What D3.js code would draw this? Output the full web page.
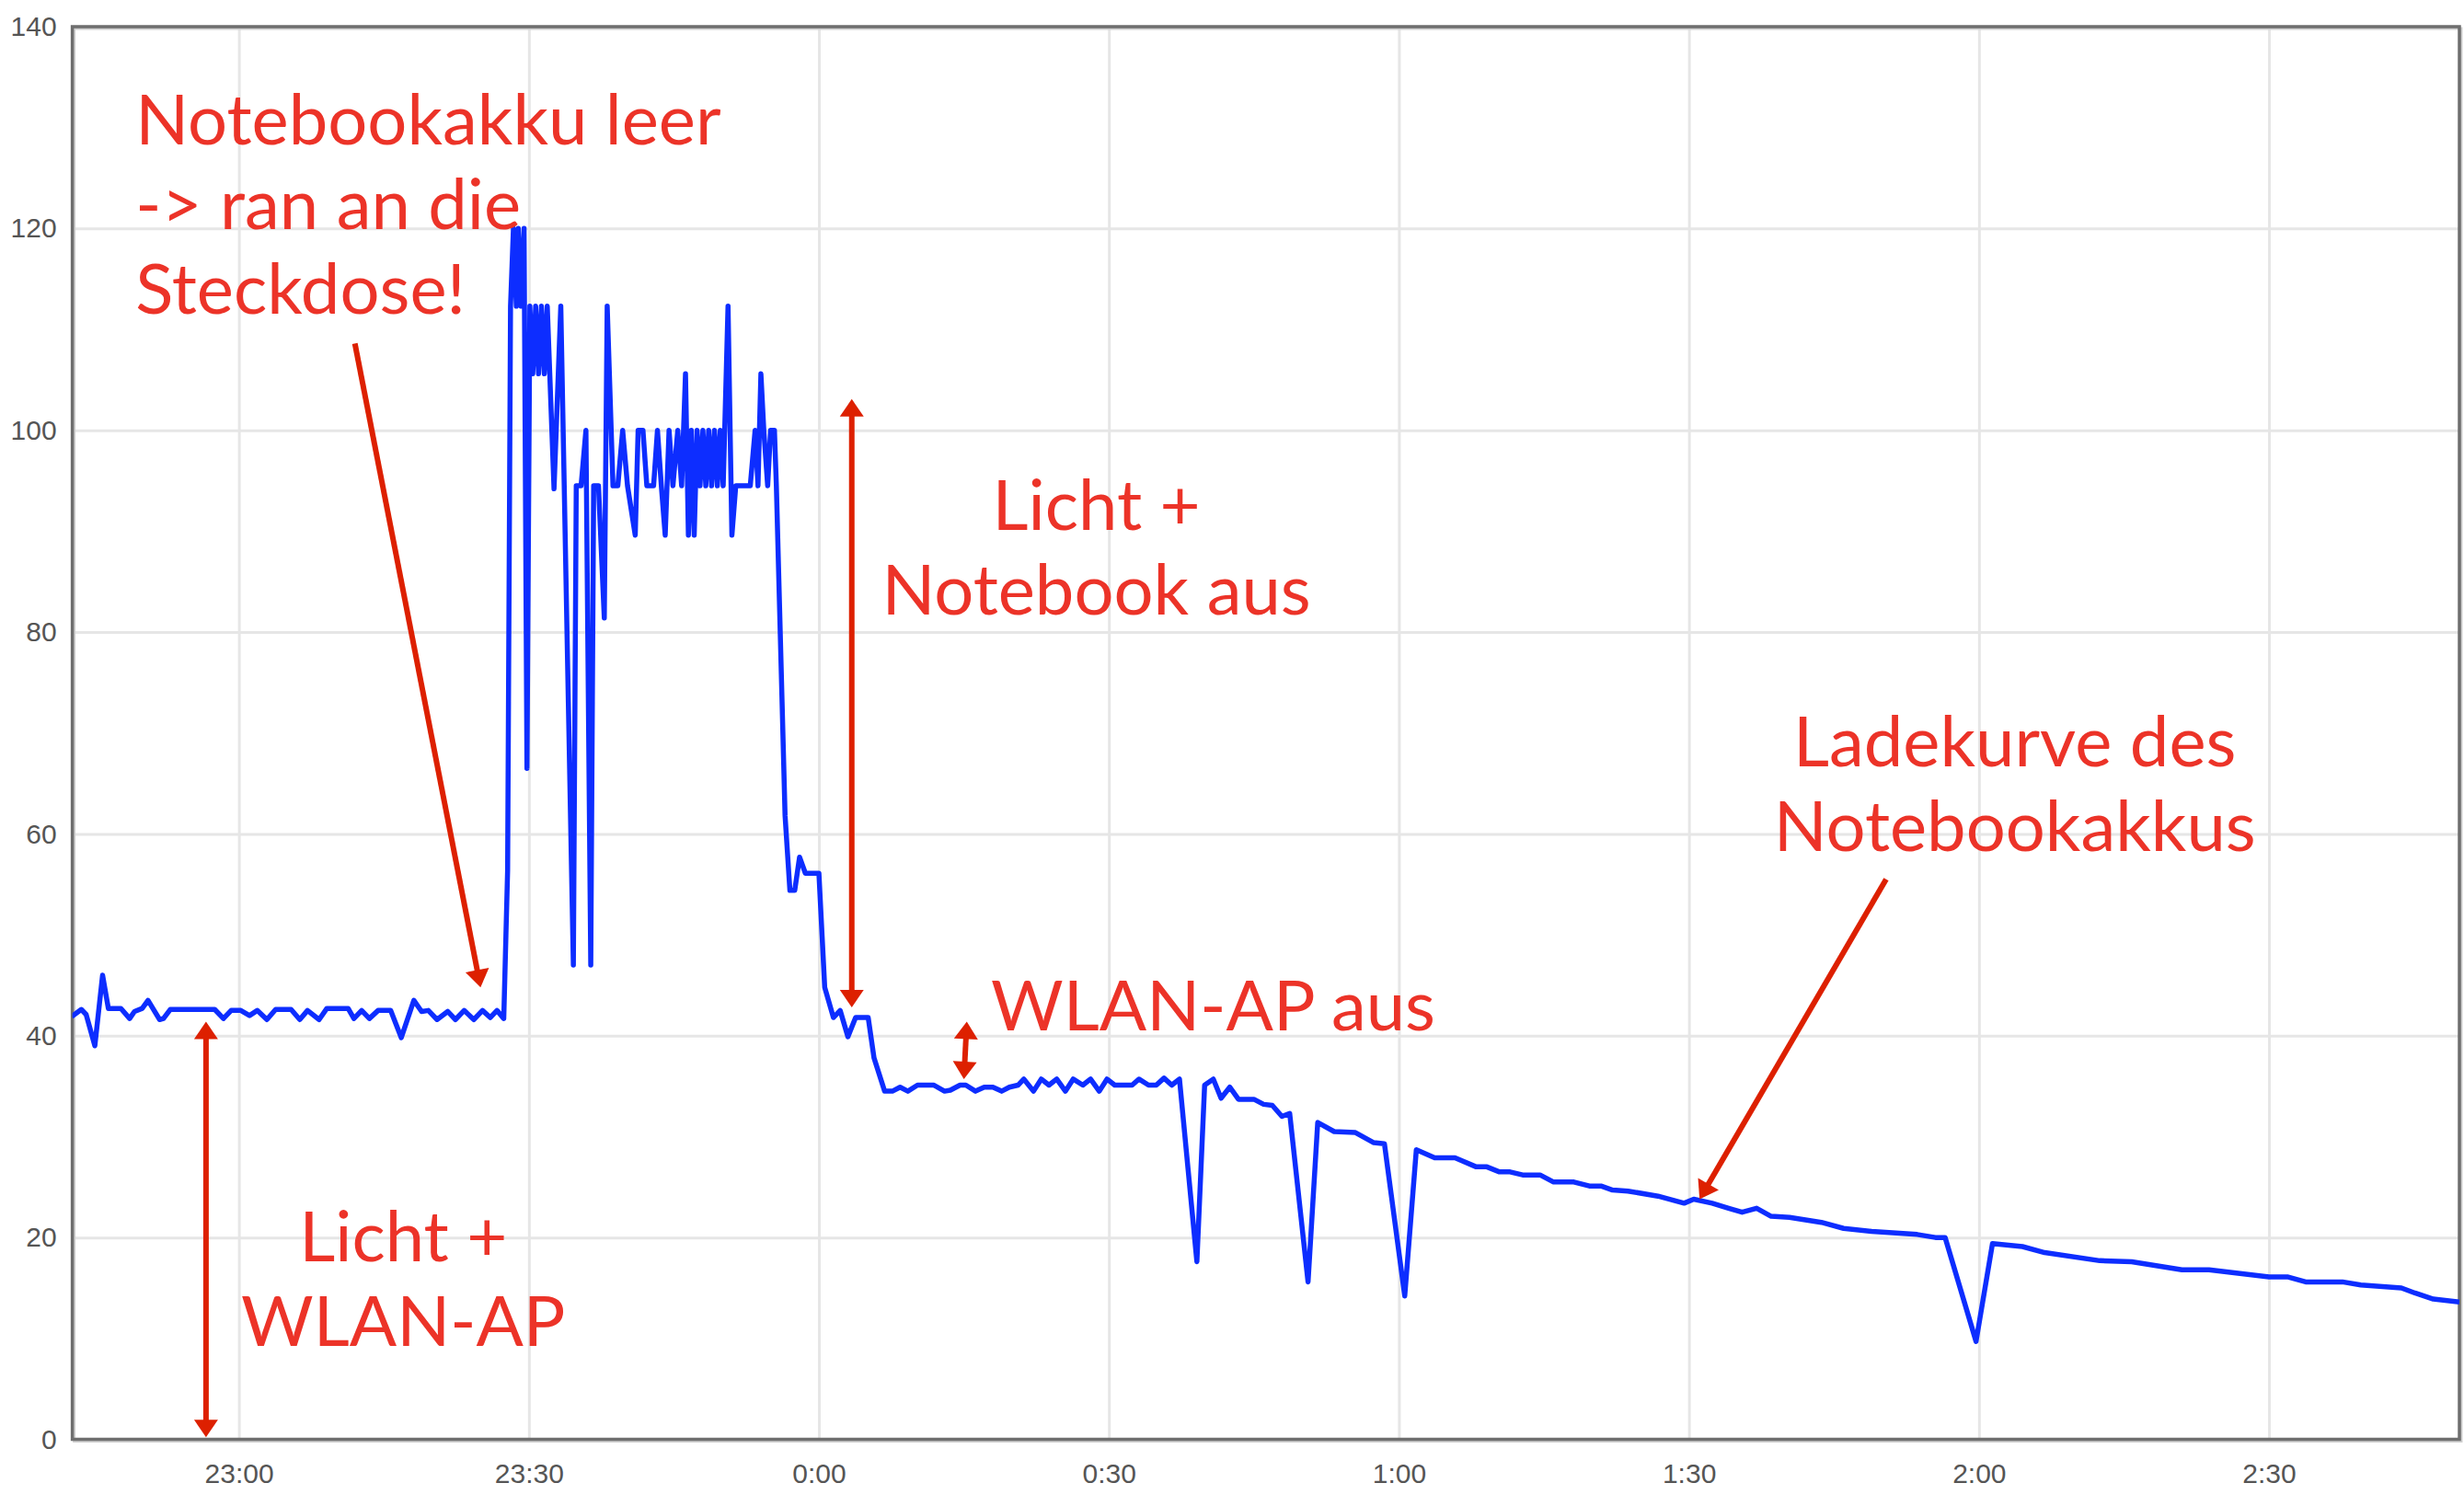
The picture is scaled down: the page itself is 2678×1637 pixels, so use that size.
<!DOCTYPE html>
<html>
<head>
<meta charset="utf-8">
<script src="https://cdn.jsdelivr.net/npm/d3@7"></script>
<style>
    body { margin: 0; background: #fff; }
    .axis text { font-family: "Liberation Sans", Arial, sans-serif; font-size: 30px; fill: #555; }
    .note { font-family: Lato, "Open Sans", sans-serif; font-size: 76px; fill: #ec3328; }
</style>
</head>
<body>
<div id="chart"></div>
<script>
// Minutes after 23:00 for each reading
const minutes = [
    -17.3, -16.3, -15.8, -14.9, -14.1, -13.5, -12.2, -11.3, -10.8, -10.0,
    -9.4, -8.2, -7.8, -7.1, -2.5, -1.6, -0.8, 0.2, 1.1, 1.9,
    2.9, 3.8, 5.4, 6.3, 7.1, 8.3, 9.1, 11.3, 11.9, 12.7,
    13.5, 14.4, 15.7, 16.8, 18.1, 18.9, 19.6, 20.5, 21.6, 22.4,
    23.3, 24.3, 25.2, 26.0, 26.7, 27.4,
    27.8, 28.1, 28.4, 28.7, 28.9, 29.2, 29.5, 29.8, 30.1, 30.4,
    30.7, 31.0, 31.3, 31.6, 31.9, 32.6, 33.3, 34.6, 34.9, 35.4,
    35.9, 36.4, 36.7, 37.2, 37.8, 38.1, 38.7, 39.2, 39.7, 40.2,
    41.0, 41.3, 41.8, 42.2, 42.9, 43.3, 43.7, 44.1, 44.5, 44.9,
    45.4, 45.8, 46.2, 46.5, 46.8, 47.1, 47.4, 47.7, 48.0, 48.3,
    48.6, 48.9, 49.2, 49.5, 49.8, 50.1, 50.6, 51.0, 51.4, 52.9,
    53.4, 53.7, 54.0, 54.3, 54.7, 55.0, 55.4, 55.6,
    56.5, 57.0, 57.5, 58.0, 58.6, 60.0, 60.6, 61.5, 62.2, 63.0,
    63.8, 65.1, 65.7, 66.8, 67.6, 68.4, 69.2, 70.2, 71.9, 73.0,
    73.6, 74.6, 75.2, 76.2, 77.1, 78.0, 78.9, 79.7, 80.6, 81.2,
    82.2, 83.0, 83.8, 84.6, 85.5, 86.3, 87.3, 88.1, 89.0, 89.8,
    90.6, 92.4, 93.1, 94.1, 94.9, 95.7, 96.5, 97.3, 99.1, 99.9,
    100.8, 101.6, 102.5, 103.4, 105.0, 106.0, 106.9, 107.9, 108.7, 110.6,
    111.6, 113.3, 115.5, 117.4, 118.5, 120.6, 121.8, 123.7, 125.8, 128.0,
    129.1, 130.4, 131.5, 132.8, 134.6, 136.0, 138.1, 139.7, 140.9, 142.1,
    143.7, 146.8, 149.5, 150.5, 152.4, 154.1, 155.5, 157.0, 158.5, 160.4,
    163.7, 166.0, 168.9, 173.6, 175.5, 176.5, 179.7, 181.4, 184.5, 186.8,
    192.5, 195.8, 201.0, 203.8, 210.0, 211.9, 213.8, 217.6, 219.5, 223.7,
    225.1, 227.0, 229.7
];

// Power draw in watts
const watts = [
    41.9, 42.6, 42.1, 39.0, 46.0, 42.7, 42.7, 41.7, 42.4, 42.7,
    43.5, 41.6, 41.7, 42.6, 42.6, 41.7, 42.5, 42.5, 42.0, 42.5,
    41.6, 42.6, 42.6, 41.6, 42.5, 41.6, 42.7, 42.7, 41.7, 42.5,
    41.7, 42.5, 42.5, 39.8, 43.5, 42.4, 42.5, 41.6, 42.4, 41.6,
    42.5, 41.6, 42.5, 41.8, 42.5, 41.7,
    56.4, 112.3, 120, 112.3, 120, 112.3, 120, 66.5, 112.3, 105.6,
    112.3, 105.6, 112.3, 105.6, 112.3, 94.2, 112.3, 47, 94.5, 94.5,
    100, 47, 94.5, 94.5, 81.4, 112.3, 94.5, 94.5, 100, 94.5,
    89.6, 100, 100, 94.5, 94.5, 100, 94.5, 89.6, 100, 94.5,
    100, 94.5, 105.6, 89.6, 100, 89.6, 100, 94.5, 100, 94.5,
    100, 94.5, 100, 94.5, 100, 94.5, 112.3, 89.6, 94.5, 94.5,
    100, 94.5, 105.6, 100, 94.5, 100, 100, 94.5,
    61.8, 54.4, 54.4, 57.7, 56.1, 56.1, 44.8, 41.8, 42.5, 39.9,
    41.8, 41.8, 37.8, 34.5, 34.5, 34.9, 34.5, 35.1, 35.1, 34.5,
    34.6, 35.1, 35.1, 34.5, 34.9, 34.9, 34.5, 34.9, 35.1, 35.7,
    34.5, 35.7, 35.1, 35.7, 34.5, 35.7, 35.1, 35.7, 34.5, 35.7,
    35.1, 35.1, 35.7, 35.1, 35.1, 35.8, 35.1, 35.7, 17.6, 35.1,
    35.7, 33.8, 34.9, 33.7, 33.7, 33.2, 33.1, 32.0, 32.3, 15.6,
    31.4, 30.5, 30.4, 29.4, 29.3, 14.2, 28.7, 27.9, 27.9, 27.0,
    27.0, 26.5, 26.5, 26.2, 26.2, 25.5, 25.5, 25.1, 25.1, 24.7,
    24.6, 24.1, 23.4, 23.8, 23.4, 22.9, 22.5, 22.9, 22.1, 22.0,
    21.5, 20.9, 20.6, 20.3, 20.0, 20.0, 9.7, 19.4, 19.1, 18.5,
    17.7, 17.6, 16.8, 16.8, 16.1, 16.1, 15.6, 15.6, 15.3, 15.0,
    14.5, 13.9, 13.6
];

const yTicks = [0, 20, 40, 60, 80, 100, 120, 140];
const xTickMinutes = [0, 30, 60, 90, 120, 150, 180, 210];
const xDomainMinutes = [-17.23, 229.7];

// Annotation texts, placed at (minute, watt) of their first baseline
const noteLines = [
    ["Notebookakku leer", "-> ran an die", "Steckdose!"],
    ["Licht +", "WLAN-AP"],
    ["Licht +", "Notebook aus"],
    ["WLAN-AP aus"],
    ["Ladekurve des", "Notebookakkus"]
];
const noteMinute = [-10.7, 17.0, 88.7, 77.8, 183.7];
const noteWatt = [128.3, 17.6, 90.1, 40.5, 66.7];

// Arrows: from / to in (minute, watt)
const arrowFrom = [[12.0, 108.6], [-3.4, 41.4], [63.4, 103.1], [75.3, 41.4], [170.4, 55.5]];
const arrowTo = [[25.0, 44.8], [-3.4, 0.2], [63.4, 42.8], [75.0, 35.7], [151.1, 23.8]];
const arrowBoth = [false, true, true, true, false];

const width = 2678;
const height = 1637;
const plot = { left: 78.6, right: 2673, top: 29, bottom: 1564.5 };

const base = new Date(2012, 0, 1, 23, 0, 0);
const toDate = m => new Date(base.getTime() + m * 60000);

const svg = d3.select('#chart')
    .append('svg')
    .attr('width', width)
    .attr('height', height);

const x = d3.scaleTime()
    .domain(xDomainMinutes.map(toDate))
    .range([plot.left, plot.right]);

const y = d3.scaleLinear()
    .domain([0, 140])
    .range([plot.bottom, plot.top]);

// Grid lines
svg.append('g')
    .attr('transform', `translate(0,${plot.bottom})`)
    .call(d3.axisBottom(x)
        .tickValues(xTickMinutes.map(toDate))
        .tickSize(-(plot.bottom - plot.top))
        .tickFormat(''))
    .call(g => g.select('.domain').remove())
    .call(g => g.selectAll('line').attr('stroke', '#e6e6e6').attr('stroke-width', 3));

svg.append('g')
    .attr('transform', `translate(${plot.left},0)`)
    .call(d3.axisLeft(y)
        .tickValues(yTicks.slice(1, -1))
        .tickSize(-(plot.right - plot.left))
        .tickFormat(''))
    .call(g => g.select('.domain').remove())
    .call(g => g.selectAll('line').attr('stroke', '#e6e6e6').attr('stroke-width', 3));

// Tick labels
svg.append('g')
    .attr('class', 'axis')
    .attr('transform', `translate(0,${plot.bottom})`)
    .call(d3.axisBottom(x)
        .tickValues(xTickMinutes.map(toDate))
        .tickFormat(d3.timeFormat('%-H:%M'))
        .tickSize(0)
        .tickPadding(26))
    .call(g => g.select('.domain').remove());

svg.append('g')
    .attr('class', 'axis')
    .attr('transform', `translate(${plot.left},0)`)
    .call(d3.axisLeft(y)
        .tickValues(yTicks)
        .tickSize(0)
        .tickPadding(17))
    .call(g => g.select('.domain').remove());

// Frame around the plot
svg.append('rect')
    .attr('x', plot.left + 2)
    .attr('y', plot.top + 2)
    .attr('width', plot.right - plot.left)
    .attr('height', plot.bottom - plot.top)
    .attr('fill', 'none')
    .attr('stroke', '#cfcfcf')
    .attr('stroke-width', 3);

svg.append('rect')
    .attr('x', plot.left)
    .attr('y', plot.top)
    .attr('width', plot.right - plot.left)
    .attr('height', plot.bottom - plot.top)
    .attr('fill', 'none')
    .attr('stroke', '#6e6e6e')
    .attr('stroke-width', 3.5);

// Power line
svg.append('clipPath')
    .attr('id', 'clip')
    .append('rect')
    .attr('x', plot.left)
    .attr('y', plot.top)
    .attr('width', plot.right - plot.left)
    .attr('height', plot.bottom - plot.top);

const line = d3.line()
    .x((d, i) => x(toDate(minutes[i])))
    .y(d => y(d));

svg.append('path')
    .datum(watts)
    .attr('clip-path', 'url(#clip)')
    .attr('fill', 'none')
    .attr('stroke', '#0d2dff')
    .attr('stroke-width', 5.5)
    .attr('stroke-linejoin', 'round')
    .attr('d', line);

// Red arrows
const arrows = svg.append('g').attr('fill', '#dd2000').attr('stroke', '#dd2000');
const headLen = 19, headHalf = 13;

function drawArrow(p0, p1, both) {
    const ang = Math.atan2(p1[1] - p0[1], p1[0] - p0[0]);
    const ux = Math.cos(ang), uy = Math.sin(ang);
    const head = (tx, ty, dx, dy) => {
        const bx = tx - headLen * dx, by = ty - headLen * dy;
        return [[tx, ty], [bx - dy * headHalf, by + dx * headHalf], [bx + dy * headHalf, by - dx * headHalf]];
    };
    const s = both ? [p0[0] + (headLen - 2) * ux, p0[1] + (headLen - 2) * uy] : p0;
    const e = [p1[0] - (headLen - 2) * ux, p1[1] - (headLen - 2) * uy];
    arrows.append('line')
        .attr('x1', s[0]).attr('y1', s[1])
        .attr('x2', e[0]).attr('y2', e[1])
        .attr('stroke-width', 6);
    arrows.append('polygon')
        .attr('stroke', 'none')
        .attr('points', head(p1[0], p1[1], ux, uy).join(' '));
    if (both) {
        arrows.append('polygon')
            .attr('stroke', 'none')
            .attr('points', head(p0[0], p0[1], -ux, -uy).join(' '));
    }
}

arrowFrom.forEach((f, i) => {
    const t = arrowTo[i];
    drawArrow([x(toDate(f[0])), y(f[1])], [x(toDate(t[0])), y(t[1])], arrowBoth[i]);
});

// Annotation texts
const noteAnchor = ['start', 'middle', 'middle', 'start', 'middle'];
noteLines.forEach((lines, i) => {
    const text = svg.append('text')
        .attr('class', 'note')
        .attr('text-anchor', noteAnchor[i])
        .attr('x', x(toDate(noteMinute[i])))
        .attr('y', y(noteWatt[i]));
    lines.forEach((l, j) => {
        text.append('tspan')
            .attr('x', x(toDate(noteMinute[i])))
            .attr('dy', j === 0 ? 0 : 92)
            .text(l);
    });
});
</script>
</body>
</html>
